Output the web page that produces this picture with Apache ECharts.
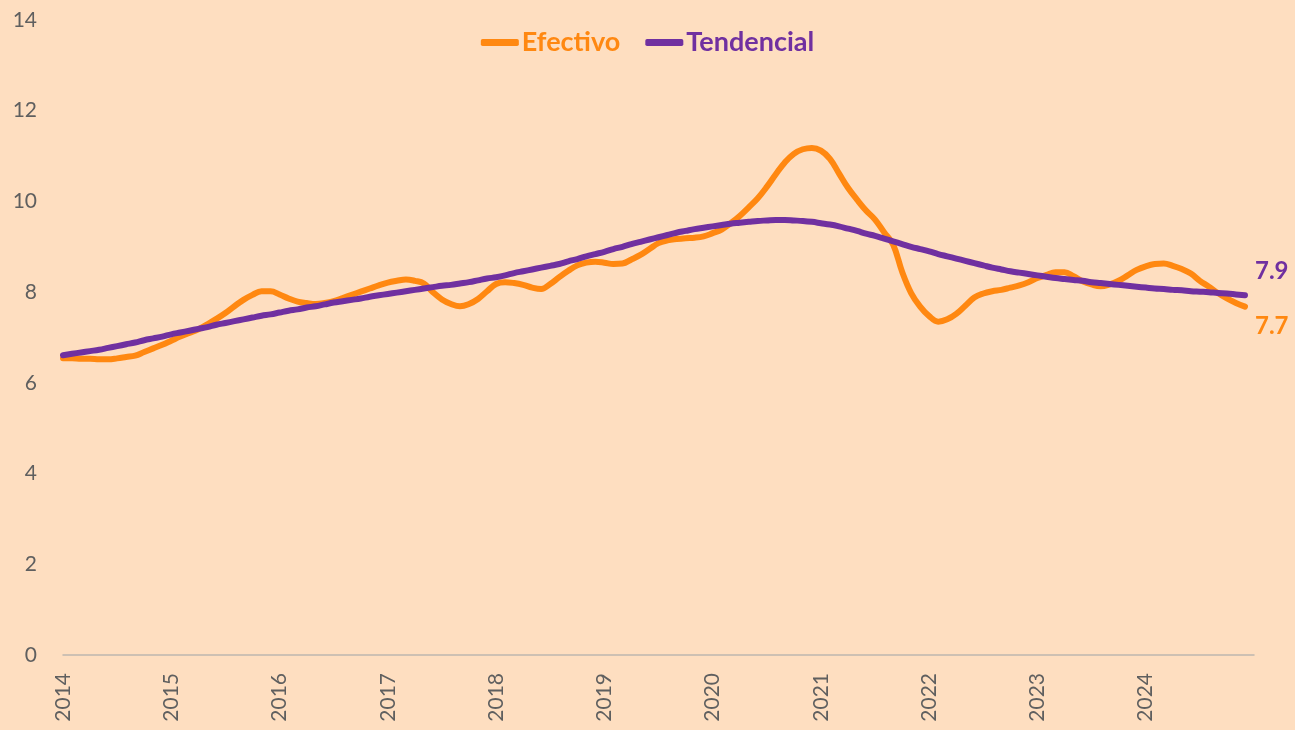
<!DOCTYPE html>
<html>
<head>
<meta charset="utf-8">
<script src="https://cdn.jsdelivr.net/npm/echarts@6/dist/echarts.min.js"></script>
<style>
  html, body { margin: 0; padding: 0; background: #FEDEC0; }
  #main { width: 1295px; height: 730px; }
</style>
</head>
<body>
<div id="main"></div>
<script>
// meses 2014-01 ... 2025-01 (el último sin dato)
var years = [2014, 2015, 2016, 2017, 2018, 2019, 2020, 2021, 2022, 2023, 2024, 2025];
var months = ['01', '02', '03', '04', '05', '06', '07', '08', '09', '10', '11', '12'];
var categories = [];
years.forEach(function (y) {
  months.forEach(function (m) {
    if (y < 2025 || m === '01') categories.push(y + '-' + m);
  });
});

var efectivo = [
  6.54, 6.54, 6.53, 6.53, 6.52, 6.52, 6.54, 6.57, 6.60, 6.68, 6.76, 6.84,
  6.93, 7.02, 7.10, 7.18, 7.29, 7.41, 7.54, 7.69, 7.83, 7.94, 8.02, 8.02,
  7.95, 7.86, 7.79, 7.76, 7.74, 7.76, 7.80, 7.87, 7.94, 8.01, 8.08, 8.15,
  8.21, 8.25, 8.28, 8.25, 8.19, 8.00, 7.84, 7.74, 7.69, 7.74, 7.85, 8.02,
  8.18, 8.22, 8.20, 8.16, 8.10, 8.07, 8.18, 8.33, 8.47, 8.59, 8.65, 8.67,
  8.65, 8.62, 8.63, 8.72, 8.82, 8.95, 9.08, 9.14, 9.17, 9.19, 9.20, 9.23,
  9.30, 9.38, 9.52, 9.68, 9.87, 10.07, 10.32, 10.60, 10.86, 11.05, 11.15, 11.18,
  11.12, 10.94, 10.62, 10.30, 10.04, 9.80, 9.60, 9.32, 9.05, 8.45, 7.98, 7.68,
  7.47, 7.35, 7.40, 7.52, 7.70, 7.88, 7.97, 8.02, 8.05, 8.10, 8.15, 8.22,
  8.31, 8.38, 8.44, 8.44, 8.35, 8.24, 8.17, 8.13, 8.17, 8.25, 8.37, 8.49,
  8.57, 8.62, 8.63, 8.58, 8.51, 8.41, 8.25, 8.12, 7.98, 7.86, 7.76, 7.68
];

var tendencial = [
  6.61, 6.64, 6.67, 6.70, 6.73, 6.77, 6.81, 6.85, 6.89, 6.94, 6.98, 7.02,
  7.07, 7.11, 7.15, 7.19, 7.23, 7.28, 7.32, 7.36, 7.40, 7.44, 7.48, 7.51,
  7.55, 7.59, 7.62, 7.66, 7.69, 7.73, 7.77, 7.80, 7.83, 7.86, 7.90, 7.93,
  7.96, 7.99, 8.02, 8.05, 8.08, 8.11, 8.14, 8.16, 8.19, 8.22, 8.26, 8.30,
  8.33, 8.37, 8.42, 8.46, 8.50, 8.54, 8.58, 8.62, 8.68, 8.73, 8.79, 8.84,
  8.89, 8.95, 9.00, 9.06, 9.11, 9.16, 9.21, 9.26, 9.31, 9.35, 9.39, 9.42,
  9.45, 9.48, 9.51, 9.53, 9.55, 9.57, 9.58, 9.59, 9.59, 9.58, 9.57, 9.55,
  9.52, 9.49, 9.45, 9.40, 9.35, 9.29, 9.24, 9.18, 9.12, 9.06, 9.00, 8.95,
  8.90, 8.84, 8.79, 8.74, 8.69, 8.64, 8.59, 8.54, 8.50, 8.46, 8.43, 8.40,
  8.37, 8.34, 8.31, 8.29, 8.27, 8.25, 8.22, 8.20, 8.18, 8.16, 8.14, 8.12,
  8.10, 8.08, 8.07, 8.05, 8.04, 8.02, 8.01, 8.00, 7.98, 7.97, 7.95, 7.93
];

var orange = '#FF8811';
var purple = '#7030A0';
var font = 'Lato, "Noto Sans", sans-serif';

var myChart = echarts.init(document.getElementById('main'));
myChart.setOption({
  backgroundColor: '#FEDEC0',
  animation: false,
  textStyle: { fontFamily: font },
  legend: {
    top: 24,
    left: 'center',
    itemGap: 25,
    itemWidth: 38,
    itemHeight: 7,
    icon: 'roundRect',
    textStyle: { fontSize: 27, fontWeight: 'bold', fontFamily: font, padding: [0, 0, 0, -2] },
    data: [
      { name: 'Efectivo', textStyle: { color: orange } },
      { name: 'Tendencial', textStyle: { color: purple } }
    ]
  },
  grid: { left: 63, right: 41, top: 20, bottom: 75 },
  xAxis: {
    type: 'category',
    boundaryGap: false,
    data: categories,
    axisLine: { lineStyle: { color: '#BDB6AE', width: 1.5 } },
    axisTick: { show: false },
    axisLabel: {
      rotate: 90,
      fontSize: 21,
      color: '#5F5F5F',
      margin: 18,
      interval: function (i) { return i % 12 === 0 && i < 132; },
      formatter: function (v) { return v.slice(0, 4); }
    }
  },
  yAxis: {
    type: 'value',
    min: 0,
    max: 14,
    interval: 2,
    splitLine: { show: false },
    axisLine: { show: false },
    axisTick: { show: false },
    axisLabel: { fontSize: 21, color: '#5F5F5F', margin: 26 }
  },
  series: [
    {
      name: 'Efectivo',
      type: 'line',
      data: efectivo,
      smooth: 0.4,
      showSymbol: false,
      color: orange,
      lineStyle: { width: 6, color: orange, cap: 'round' },
      endLabel: {
        show: true,
        color: orange,
        fontSize: 24,
        fontWeight: 'bold',
        offset: [2, 20],
        formatter: function (p) { return p.value.toFixed(1); }
      },
      z: 2
    },
    {
      name: 'Tendencial',
      type: 'line',
      data: tendencial,
      smooth: 0.4,
      showSymbol: false,
      color: purple,
      lineStyle: { width: 6, color: purple, cap: 'round' },
      endLabel: {
        show: true,
        color: purple,
        fontSize: 24,
        fontWeight: 'bold',
        offset: [2, -24],
        formatter: function (p) { return p.value.toFixed(1); }
      },
      z: 3
    }
  ]
});
</script>
</body>
</html>
